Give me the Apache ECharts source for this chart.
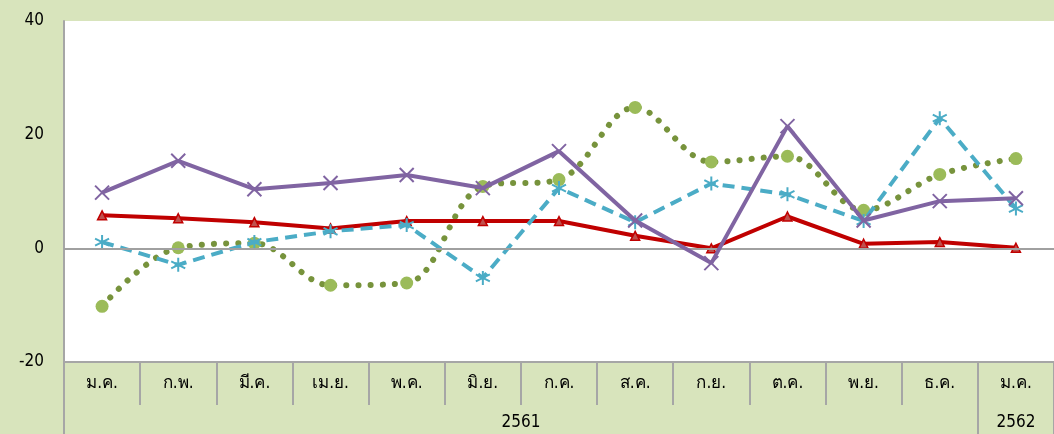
<!DOCTYPE html>
<html>
<head>
<meta charset="utf-8">
<script src="https://cdn.jsdelivr.net/npm/echarts@6/dist/echarts.min.js"></script>
<style>
  html, body { margin: 0; padding: 0; background: #d8e4bc; }
  #chart { width: 1054px; height: 434px; }
</style>
</head>
<body>
<div id="chart"></div>
<script>
var months = ["ม.ค.", "ก.พ.", "มี.ค.", "เม.ย.", "พ.ค.", "มิ.ย.", "ก.ค.", "ส.ค.", "ก.ย.", "ต.ค.", "พ.ย.", "ธ.ค.", "ม.ค."];
var years = ["2561", "2562"];
var yearSpans = [12, 1];
var yTicks = [-20, 0, 20, 40];

var redVals    = [5.8, 5.3, 4.6, 3.5, 4.8, 4.8, 4.8, 2.2, 0.0, 5.6, 0.8, 1.1, 0.1];
var purpleVals = [9.8, 15.4, 10.4, 11.5, 12.9, 10.6, 17.1, 4.9, -2.6, 21.5, 4.9, 8.3, 8.8];
var greenVals  = [-10.2, 0.1, 0.9, -6.5, -6.1, 10.9, 12.1, 24.8, 15.2, 16.2, 6.7, 13.0, 15.8];
var cyanVals   = [1.1, -2.9, 1.1, 3.0, 4.1, -5.2, 10.6, 4.6, 11.4, 9.5, 4.8, 22.9, 7.0];

// year label positions (centre of each span) and separators
var yearCentres = [], yearEdges = [0];
var acc = 0;
yearSpans.forEach(function (s) {
  yearCentres.push(acc + s / 2);
  acc += s;
  yearEdges.push(acc);
});

var font = "Tahoma, 'DejaVu Sans Condensed', 'DejaVu Sans', sans-serif";
var xMark = "path://M0,0L10,10M10,0L0,10";
var starMark = "path://M5,0L5,10M0,2.5L10,7.5M10,2.5L0,7.5";

var chart = echarts.init(document.getElementById("chart"));
chart.setOption({
  backgroundColor: "#d8e4bc",
  animation: false,
  grid: {
    left: 64, right: 0, top: 21, bottom: 72,
    show: true, backgroundColor: "#ffffff", borderWidth: 0
  },
  xAxis: [
    {
      type: "category",
      data: months,
      boundaryGap: true,
      axisLine: { onZero: false, lineStyle: { color: "#a6a6a6", width: 2 } },
      axisTick: { show: true, length: 43, lineStyle: { color: "#a6a6a6", width: 2 } },
      axisLabel: { color: "#000", fontSize: 17, fontFamily: font, margin: 13 }
    },
    {
      type: "value",
      position: "bottom",
      offset: 43,
      min: 0, max: months.length,
      axisLine: { show: false, onZero: false },
      splitLine: { show: false },
      axisTick: {
        show: true, length: 29, customValues: yearEdges,
        lineStyle: { color: "#a6a6a6", width: 2 }
      },
      axisLabel: {
        customValues: yearCentres,
        color: "#000", fontSize: 17, fontFamily: font, margin: 9,
        formatter: function (v) {
          var i = yearCentres.indexOf(v);
          return i >= 0 ? years[i] : "";
        }
      }
    }
  ],
  yAxis: {
    type: "value",
    min: -20, max: 40, interval: 20,
    axisLine: { show: true, lineStyle: { color: "#a6a6a6", width: 2 } },
    axisTick: { show: false },
    splitLine: { show: false },
    axisLabel: {
      color: "#000", fontSize: 17, fontFamily: font, margin: 20,
      formatter: function (v) { return yTicks.indexOf(v) >= 0 ? String(v) : ""; }
    }
  },
  series: [
    {
      name: "green",
      type: "line",
      data: greenVals,
      smooth: 0.35,
      symbol: "circle",
      symbolSize: 13,
      itemStyle: { color: "#9bbb59" },
      lineStyle: { color: "#77933c", width: 6, type: [0.1, 12], cap: "round" },
      z: 2,
      markLine: {
        silent: true, symbol: "none", label: { show: false },
        lineStyle: { color: "#a0a0a0", width: 2, type: "solid" },
        data: [{ yAxis: 0 }]
      }
    },
    {
      name: "red",
      type: "line",
      data: redVals,
      symbol: "triangle",
      symbolSize: 9,
      itemStyle: { color: "#c0504d", borderColor: "#c00000", borderWidth: 1.5 },
      lineStyle: { color: "#c00000", width: 4 },
      z: 3
    },
    {
      name: "cyan",
      type: "line",
      data: cyanVals,
      symbol: starMark,
      symbolSize: 14,
      itemStyle: { color: "#4bacc6", borderColor: "#4bacc6", borderWidth: 2 },
      lineStyle: { color: "#4bacc6", width: 4, type: [12, 7] },
      z: 4
    },
    {
      name: "purple",
      type: "line",
      data: purpleVals,
      symbol: xMark,
      symbolSize: 14,
      itemStyle: { color: "#8064a2", borderColor: "#8064a2", borderWidth: 2 },
      lineStyle: { color: "#8064a2", width: 4 },
      z: 5
    }
  ]
});
</script>
</body>
</html>
